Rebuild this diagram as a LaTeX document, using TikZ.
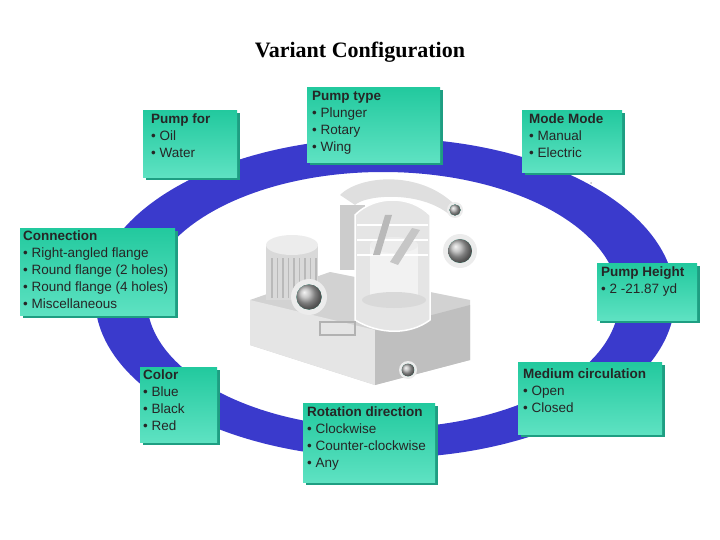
\documentclass[tikz,border=0pt]{standalone}
\usepackage{fontspec}
\setmainfont{Liberation Sans}
\newfontfamily\titlefont{Liberation Serif}
\begin{document}
\begin{tikzpicture}[x=1pt,y=-1pt,
  card/.style={draw=none,top color=teal1,bottom color=teal2,anchor=north west,inner sep=0pt},
  shade/.style={fill=teal3},
  cardtext/.style={anchor=north west,align=left,font=\fontsize{13.5}{17}\selectfont,inner sep=0pt,text=black!85},
  metal/.style={draw=gray!40,line width=0.5pt}]
\definecolor{teal1}{HTML}{22C99E}
\definecolor{teal2}{HTML}{5EE2C2}
\definecolor{teal3}{HTML}{1E9E82}
\definecolor{ring}{HTML}{3A3ACC}
\useasboundingbox (0,0) rectangle (720,540);
% ring
\fill[ring,even odd rule] (385,298) ellipse [x radius=290,y radius=160] (383,300) ellipse [x radius=236,y radius=128];
\node[font=\titlefont\bfseries\fontsize{22}{24}\selectfont] (title) at (360,52) {Variant Configuration};
% pump (simplified)
\begin{scope}
\fill[gray!35] (250,300) -- (330,272) -- (470,300) -- (470,360) -- (375,385) -- (250,345) -- cycle;
\fill[gray!20] (250,300) -- (375,330) -- (375,385) -- (250,345) -- cycle;
\fill[gray!50] (375,330) -- (470,305) -- (470,360) -- (375,385) -- cycle;
\fill[gray!30] (266,245) rectangle (318,300);
\fill[gray!15] (292,245) ellipse [x radius=26,y radius=10];
\foreach \i in {0,...,8}{\draw[gray!55,line width=1.2pt] (272+\i*5.5,258) -- (272+\i*5.5,298);}
\fill[gray!40] (340,205) rectangle (365,270);
\fill[gray!25] (340,195) .. controls (360,175) and (420,170) .. (455,205) -- (450,215) .. controls (420,190) and (365,195) .. (355,205) -- cycle;
\fill[gray!20,draw=white,line width=1.5pt] (355,215) -- (355,320) .. controls (380,335) and (410,335) .. (430,320) -- (430,215) .. controls (410,195) and (375,195) .. (355,215) -- cycle;
\fill[gray!10] (370,245) rectangle (418,300);
\fill[gray!15] (394,245) ellipse [x radius=24,y radius=8];
\fill[gray!30] (394,300) ellipse [x radius=32,y radius=8];
\foreach \yy in {225,240,255}{\draw[white,line width=1.2pt] (357,\yy) -- (428,\yy);}
\fill[gray!55] (385,215) -- (392,215) -- (380,255) -- (373,255) -- cycle;
\fill[gray!45] (412,228) -- (420,230) -- (398,265) -- (390,262) -- cycle;
\foreach \cx/\cy/\r in {309/297/18,460/251/17,455/210/8,408/370/9}{
  \fill[gray!15] (\cx,\cy) circle (\r);
  \shade[ball color=gray!60] (\cx,\cy) circle (0.7*\r);}
\draw[gray!60,line width=2pt] (320,322) rectangle (355,335);
\end{scope}
\fill[gray!50] (591,183) circle (1);
% cards
\foreach \n/\xa/\ya/\xb/\yb in {pf/143/110/240/180, pt/307/87/443/165, mm/522/110/625/175,
   cn/20/228/178/318, ph/597/263/700/323, co/140/367/220/445,
   rd/303/403/438/485, mc/518/362/665/437}{
  \fill[shade] (\xa+3,\ya+3) rectangle (\xb,\yb);
  \node[card,minimum width=\xb-\xa-3,minimum height=\yb-\ya-3] (\n) at (\xa,\ya) {};
}
\node[cardtext] (tpf) at ([xshift=8,yshift=-4]pf.north west) {\textbf{Pump for}\\• Oil\\• Water};
\node[cardtext] (tpt) at ([xshift=5,yshift=-4]pt.north west) {\textbf{Pump type}\\• Plunger\\• Rotary\\• Wing};
\node[cardtext] (tmm) at ([xshift=7,yshift=-4]mm.north west) {\textbf{Mode Mode}\\• Manual\\• Electric};
\node[cardtext] (tcn) at ([xshift=3,yshift=-3]cn.north west) {\textbf{Connection}\\• Right-angled flange\\• Round flange (2 holes)\\• Round flange (4 holes)\\• Miscellaneous};
\node[cardtext] (tph) at ([xshift=4,yshift=-4]ph.north west) {\textbf{Pump Height}\\• 2 -21.87 yd};
\node[cardtext] (tco) at ([xshift=3,yshift=-3]co.north west) {\textbf{Color}\\• Blue\\• Black\\• Red};
\node[cardtext] (trd) at ([xshift=4,yshift=-4]rd.north west) {\textbf{Rotation direction}\\• Clockwise\\• Counter-clockwise\\• Any};
\node[cardtext] (tmc) at ([xshift=5,yshift=-7]mc.north west) {\textbf{Medium circulation}\\• Open\\• Closed};
\end{tikzpicture}
\end{document}
